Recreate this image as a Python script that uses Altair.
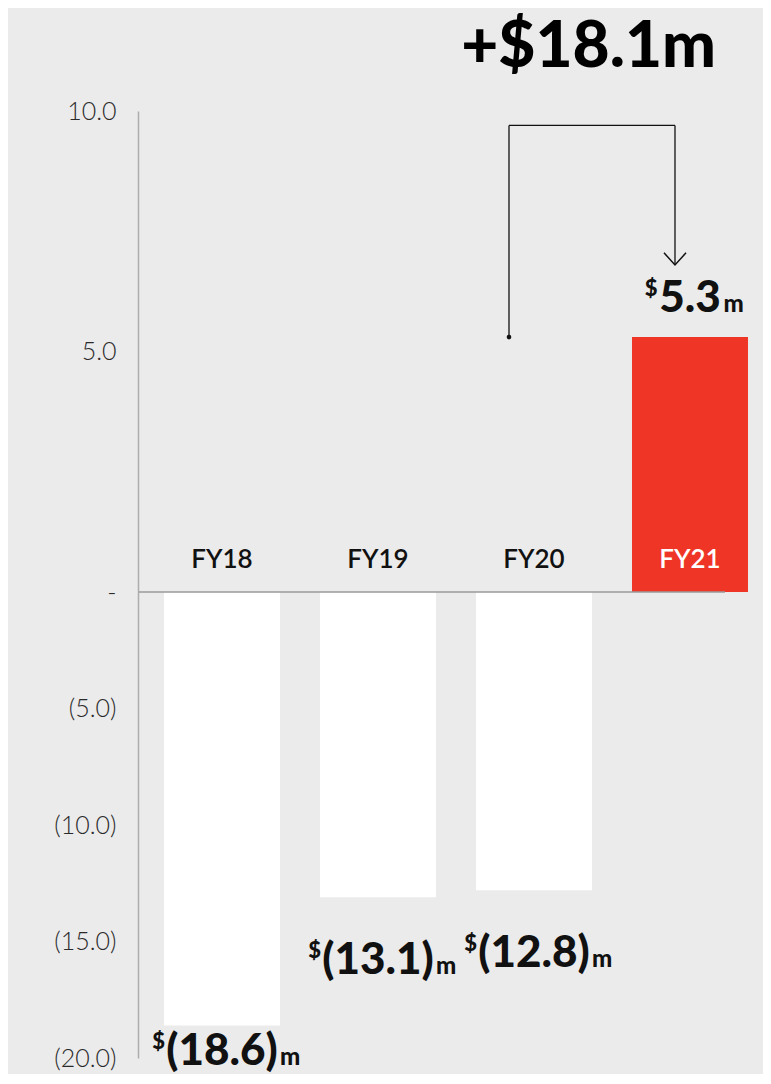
import altair as alt
import pandas as pd

# ---- data ----
years = ["FY18", "FY19", "FY20", "FY21"]
ebit = [-18.6, -13.1, -12.8, 5.3]
highlight = [False, False, False, True]
tick_values = [-20, -15, -10, -5, 0, 5, 10]

change = round(ebit[-1] - ebit[-2], 1)

df = pd.DataFrame({"year": years, "value": ebit, "hl": highlight})
ann = pd.DataFrame({
    "from": [years[-2]],
    "to": [years[-1]],
    "level": [ebit[-1]],
    "title": [f"+${change:.1f}m"],
})

BG = "#ebebeb"
RED = "#ef3626"
INK = "#111111"
FONT = "Lato"
VAL_SIZE = 44
# approximate glyph advances (em) of the heavy value-label font
ADV = {"(": 0.285, ")": 0.285, ".": 0.26}

xs = alt.Scale(domain=years, paddingInner=0.2564, paddingOuter=0.1314, align=0.634)
ys = alt.Scale(domain=[-20, 0, 10], range=[1050, 584, 103], nice=False, zero=False)

label_expr = ("datum.value == 0 ? '-' : (datum.value < 0 ? '(' + format(-datum.value, '.1f') + ')' "
              ": format(datum.value, '.1f'))")
yaxis = alt.Axis(values=tick_values, labelExpr=label_expr, title=None, grid=False, ticks=False,
                 domainColor="#adadad", domainWidth=1.5, labelFont=FONT, labelFontSize=25,
                 labelFontWeight=300, labelColor="#2a2a2a", labelPadding=22)


def X(f):
    return alt.X(f, scale=xs, axis=None)


def Y(f):
    return alt.Y(f, scale=ys, axis=yaxis)


def Yd(v):
    return alt.Y(datum=v, scale=ys, axis=yaxis)


def fmt(v):
    return f"({-v:.1f})" if v < 0 else f"{v:.1f}"


def text_width(s):
    return sum(ADV.get(c, 0.54) for c in s) * VAL_SIZE


bars = alt.Chart(df).mark_bar().encode(
    x=X("year:N"),
    y=alt.Y("value:Q", scale=ys, axis=yaxis, stack=None),
    color=alt.condition("datum.hl", alt.value(RED), alt.value("white")),
)

zero = alt.Chart(ann).mark_rule(color="#9a9a9a", strokeWidth=1.5, xOffset=-83, x2Offset=35).encode(
    x=alt.X(datum=years[0], scale=xs, axis=None),
    x2=alt.X2(datum=years[-1]),
    y=Yd(0),
)

cats = alt.Chart(df).mark_text(font=FONT, fontSize=26, fontWeight=600, baseline="alphabetic",
                               dy=-24).encode(
    x=X("year:N"),
    y=Yd(0),
    text="year:N",
    color=alt.condition("datum.hl", alt.value("white"), alt.value(INK)),
)


def value_labels(test, dy, width):
    hw = width / 2
    base = alt.Chart(df).transform_filter(test).transform_calculate(
        main="datum.value < 0 ? '(' + format(-datum.value, '.1f') + ')' : format(datum.value, '.1f')",
        # negative labels sit below the bar end, kept at the foot of the chart
        pos="datum.value < 0 ? max(datum.value - 3.3, -20.3) : datum.value",
    )
    main = base.mark_text(font=FONT, fontSize=VAL_SIZE, fontWeight=900, baseline="alphabetic",
                          color=INK, dy=dy).encode(x=X("year:N"), y=Y("pos:Q"), text="main:N")
    dollar = base.mark_text(font=FONT, fontSize=22, fontWeight=900, baseline="alphabetic",
                            align="right", color=INK, text="$", dx=-hw - 3, dy=dy - 16).encode(
        x=X("year:N"), y=Y("pos:Q"))
    unit = base.mark_text(font=FONT, fontSize=24, fontWeight=900, baseline="alphabetic",
                          align="left", color=INK, text="m", dx=hw + 4, dy=dy).encode(
        x=X("year:N"), y=Y("pos:Q"))
    return [main, dollar, unit]


neg_w = max(text_width(fmt(v)) for v in ebit if v < 0)
pos_w = max(text_width(fmt(v)) for v in ebit if v >= 0)
neg_labels = value_labels("datum.value < 0", 0, neg_w)
pos_labels = value_labels("datum.value >= 0", -25, pos_w)

# bracket annotation FY20 -> FY21
TOP = 9.7
TIP = 6.8
r1 = alt.Chart(ann).mark_rule(color=INK, strokeWidth=1.3, xOffset=-25).encode(
    x=X("from:N"), y=Y("level:Q"), y2=alt.Y2(datum=TOP))
r2 = alt.Chart(ann).mark_rule(color=INK, strokeWidth=1.3, xOffset=-25, x2Offset=-15).encode(
    x=X("from:N"), x2=alt.X2("to:N"), y=Yd(TOP))
r3 = alt.Chart(ann).mark_rule(color=INK, strokeWidth=1.3, xOffset=-15).encode(
    x=X("to:N"), y=Yd(TOP), y2=alt.Y2(datum=TIP))
chev = alt.Chart(ann).mark_point(shape="M-1,-1.1L0,0L1,-1.1", size=484, filled=False, color=INK,
                                 strokeWidth=1.5, opacity=1, xOffset=-15).encode(
    x=X("to:N"), y=Yd(TIP))
dot = alt.Chart(ann).mark_point(shape="circle", size=22, filled=True, color=INK, opacity=1,
                                xOffset=-25).encode(
    x=X("from:N"), y=Y("level:Q"))
title = alt.Chart(ann).mark_text(font=FONT, fontSize=64, fontWeight=900, align="right",
                                 baseline="alphabetic", dx=26, color="black").encode(
    x=X("to:N"), y=alt.value(59), text="title:N")

chart = alt.layer(bars, zero, cats, *neg_labels, *pos_labels, r1, r2, r3, chev, dot, title).properties(
    width=625,
    height=1066,
    padding={"left": 130, "top": 0, "right": 0, "bottom": 0},
    autosize=alt.AutoSizeParams(type="none"),
    background=BG,
).configure_view(stroke=None)

chart.save("out.html", embed_options={"renderer": "svg", "actions": False})
